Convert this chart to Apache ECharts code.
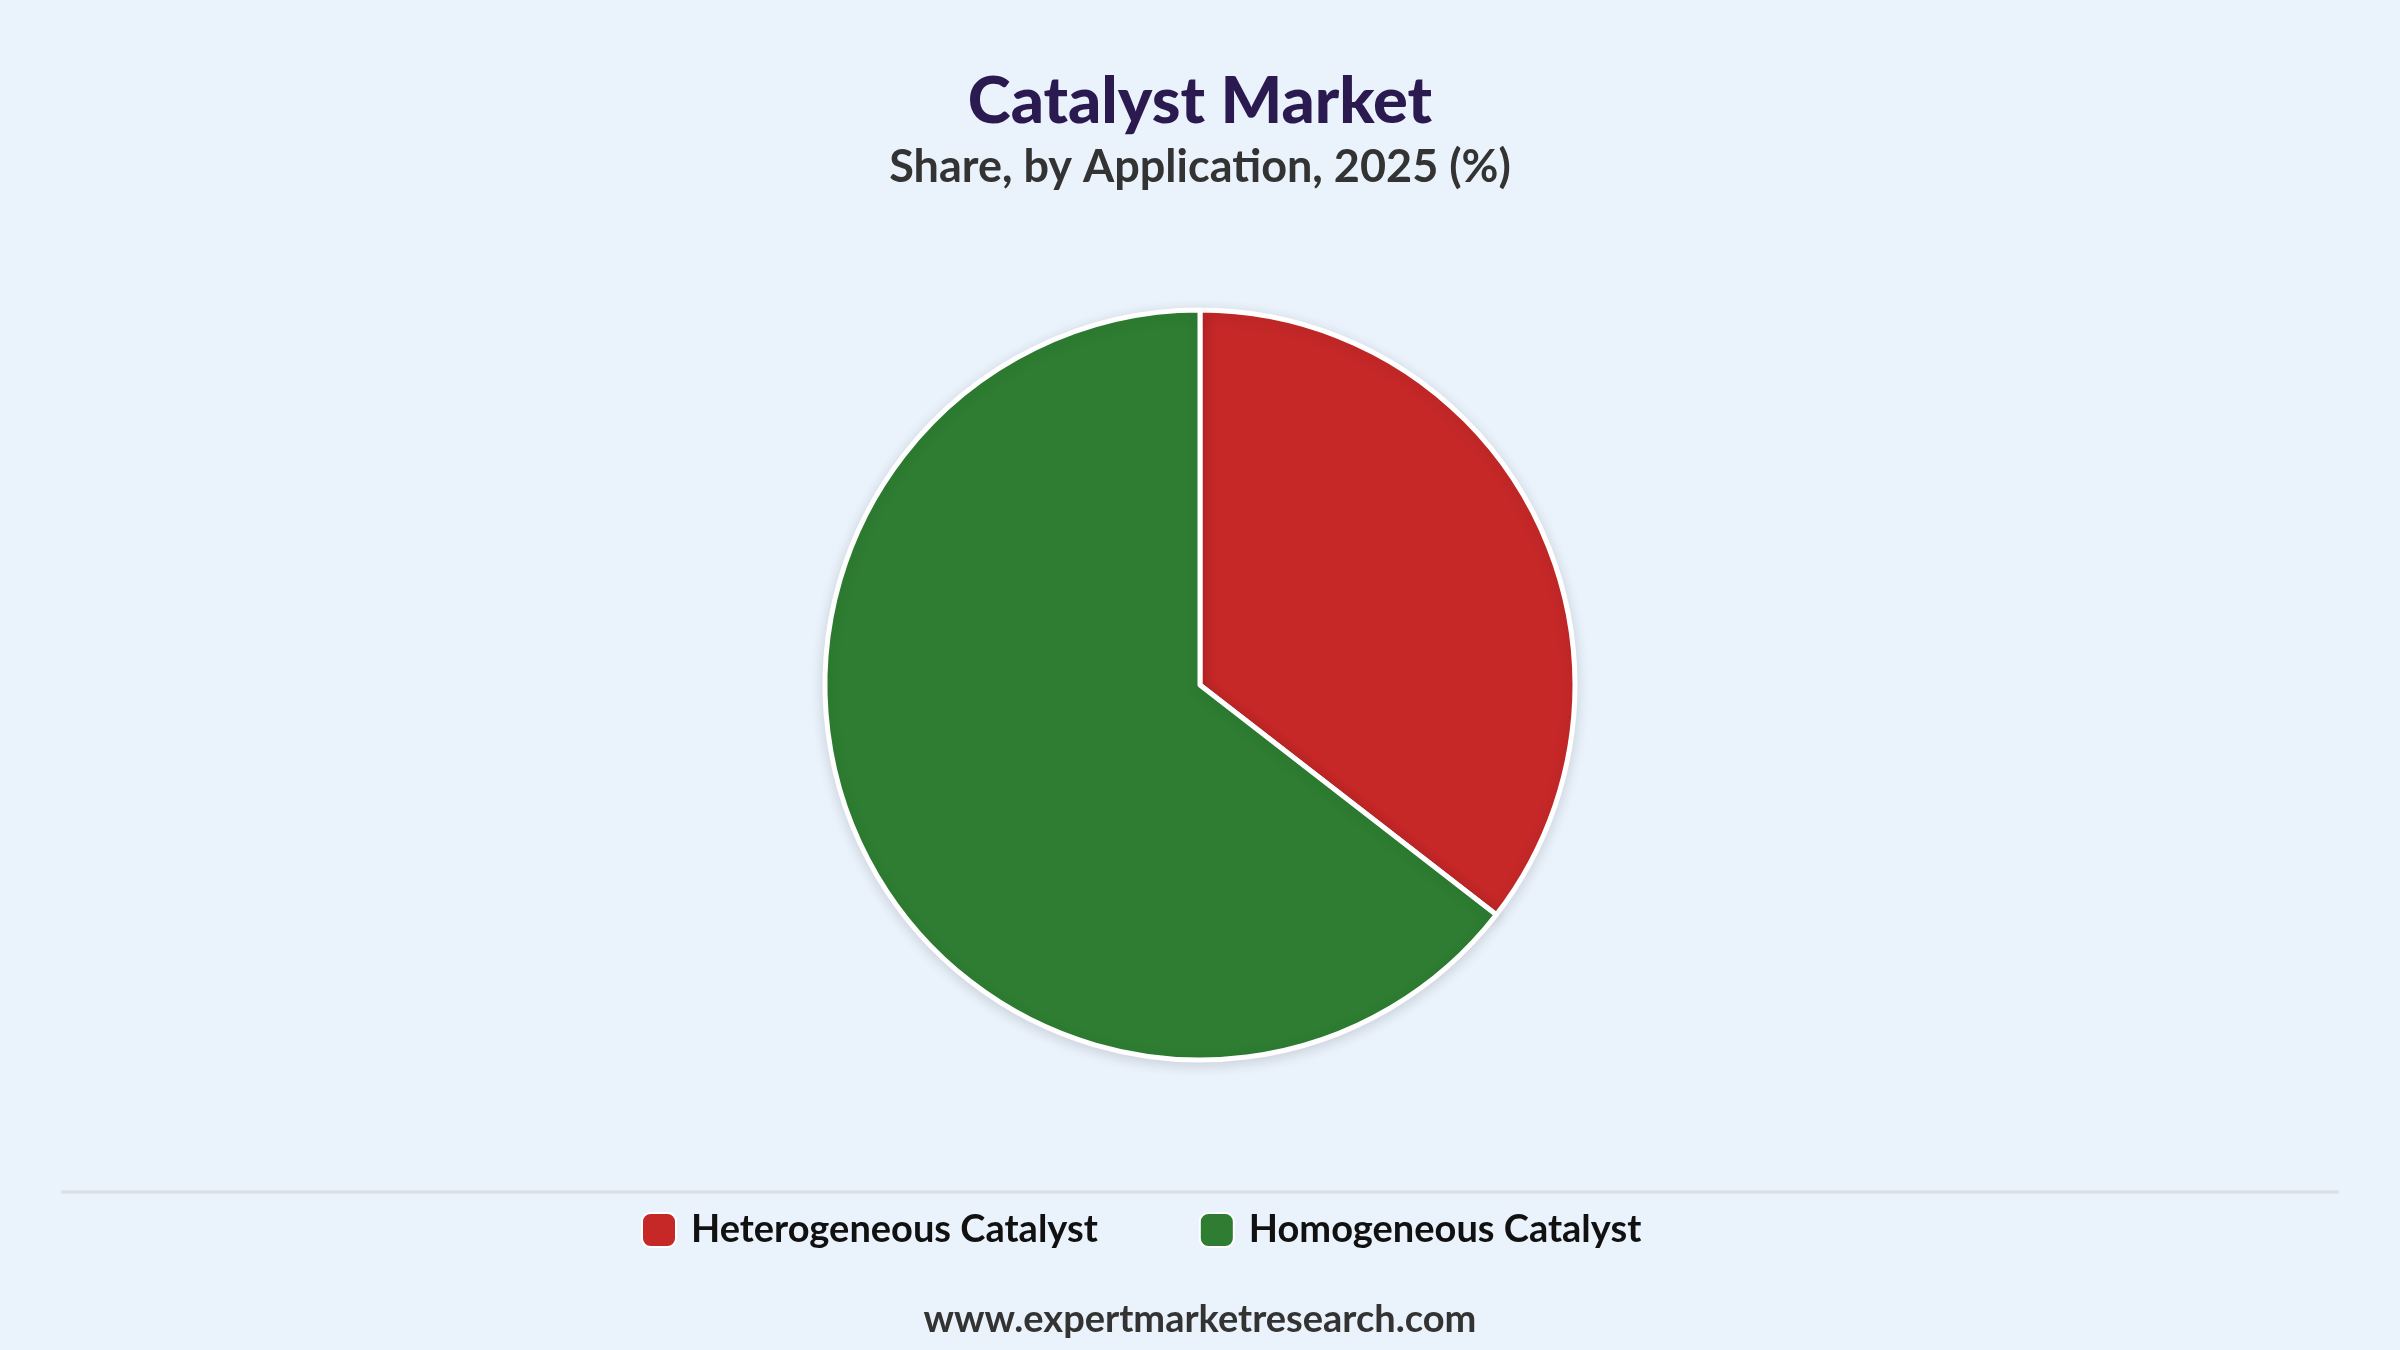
<!DOCTYPE html>
<html>
<head>
<meta charset="utf-8">
<script src="https://cdn.jsdelivr.net/npm/echarts@6/dist/echarts.min.js"></script>
<style>
html,body{margin:0;padding:0;background:#EAF2FC;}
#c{width:2400px;height:1350px;}
</style>
</head>
<body>
<div id="c"></div>
<script>
var categories = ['Heterogeneous Catalyst', 'Homogeneous Catalyst'];
var shares = [35.5, 64.5];
var colors = ['#C62828', '#2E7D32'];
var titleText = 'Catalyst Market';
var subtitleText = 'Share, by Application, 2025 (%)';
var footerText = 'www.expertmarketresearch.com';

var FONT = 'Lato, "Noto Sans", sans-serif';
var chart = echarts.init(document.getElementById('c'));
chart.setOption({
  backgroundColor: '#EAF2FC',
  title: {
    text: titleText,
    subtext: subtitleText,
    left: 'center',
    top: 65,
    itemGap: 10,
    textStyle: {fontFamily: FONT, fontWeight: 900, fontSize: 65, color: '#2B1A4F'},
    subtextStyle: {fontFamily: FONT, fontWeight: 'bold', fontSize: 45, color: '#333333'}
  },
  legend: {
    bottom: 96,
    left: 636,
    itemWidth: 34,
    itemHeight: 34,
    itemGap: 101,
    icon: 'roundRect',
    textStyle: {fontFamily: FONT, fontWeight: 'bold', fontSize: 38, color: '#111111', padding: [0,0,0,10]},
    data: categories
  },
  graphic: [
    {type: 'line', shape: {x1: 61, y1: 1192, x2: 2339, y2: 1192}, style: {stroke: '#DADDE2', lineWidth: 3}},
    {type: 'text', left: 'center', top: 1301, style: {text: footerText, fontFamily: FONT, fontWeight: 'bold', fontSize: 38, fill: '#333333'}}
  ],
  series: [{
    type: 'pie',
    center: [1200, 685],
    radius: 375,
    startAngle: 90,
    clockwise: true,
    label: {show: false},
    labelLine: {show: false},
    itemStyle: {borderColor: '#FFFFFF', borderWidth: 5, shadowColor: 'rgba(0,0,0,0.12)', shadowBlur: 14, shadowOffsetY: 3},
    emphasis: {disabled: true},
    data: categories.map(function(c, i){ return {name: c, value: shares[i], itemStyle: {color: colors[i]}}; })
  }]
});
</script>
</body>
</html>
